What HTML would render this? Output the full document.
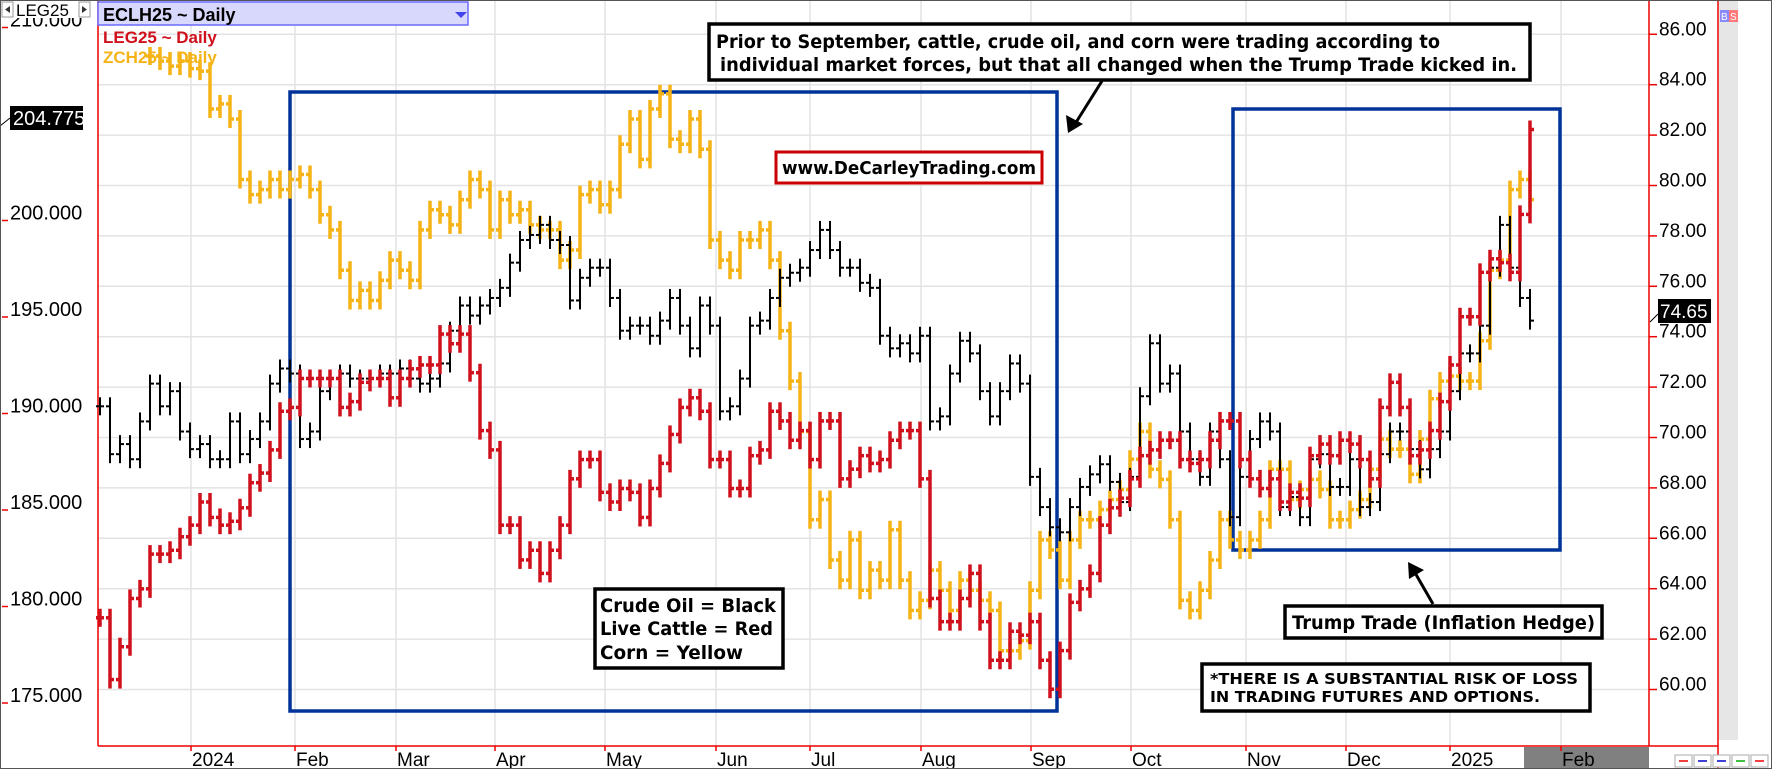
<!DOCTYPE html>
<html><head><meta charset="utf-8">
<style>
html,body{margin:0;padding:0;background:#fff;}
svg{display:block;font-family:"Liberation Sans",Arial,sans-serif;}
.ann{font-family:"DejaVu Sans","Liberation Sans",sans-serif;font-weight:bold;}
</style></head>
<body>
<svg id="chart" width="1772" height="769" viewBox="0 0 1772 769" xmlns="http://www.w3.org/2000/svg">
  <rect x="0" y="0" width="1772" height="769" fill="#fff"/>
  <rect x="1524" y="747" width="125" height="22" fill="#808080"/>
  <g id="grid"></g>
  <g id="axes"></g>
  <!-- blue boxes -->
  <rect x="290" y="92" width="767" height="619" fill="none" stroke="#003399" stroke-width="3.5"/>
  <rect x="1233" y="109" width="327" height="441" fill="none" stroke="#003399" stroke-width="3.5"/>
  <g id="series"></g>

  <!-- annotations -->
  <g>
    <rect x="709" y="24" width="821" height="56" fill="#fff" stroke="#000" stroke-width="3.5"/>
    <text class="ann" x="716" y="48" font-size="19" textLength="724" lengthAdjust="spacingAndGlyphs">Prior to September, cattle, crude oil, and corn were trading according to</text>
    <text class="ann" x="720" y="71" font-size="19" textLength="797" lengthAdjust="spacingAndGlyphs">individual market forces, but that all changed when the Trump Trade kicked in.</text>
  </g>
  <g>
    <line x1="1102" y1="81" x2="1075" y2="124" stroke="#000" stroke-width="3"/>
    <polygon points="1068,133 1066,115 1083,124" fill="#000"/>
  </g>
  <g>
    <rect x="776" y="152" width="266" height="31" fill="#fff" stroke="#cc0000" stroke-width="3"/>
    <text class="ann" x="782" y="174" font-size="18" textLength="254" lengthAdjust="spacingAndGlyphs">www.DeCarleyTrading.com</text>
  </g>
  <g>
    <rect x="595" y="589" width="188" height="79" fill="#fff" stroke="#000" stroke-width="3.5"/>
    <text class="ann" x="600" y="612" font-size="19" textLength="176" lengthAdjust="spacingAndGlyphs">Crude Oil = Black</text>
    <text class="ann" x="600" y="635" font-size="19" textLength="173" lengthAdjust="spacingAndGlyphs">Live Cattle = Red</text>
    <text class="ann" x="600" y="659" font-size="19" textLength="143" lengthAdjust="spacingAndGlyphs">Corn = Yellow</text>
  </g>
  <g>
    <rect x="1285" y="606" width="317" height="32" fill="#fff" stroke="#000" stroke-width="3.5"/>
    <text class="ann" x="1292" y="629" font-size="19" textLength="303" lengthAdjust="spacingAndGlyphs">Trump Trade (Inflation Hedge)</text>
  </g>
  <g>
    <line x1="1433" y1="604" x2="1414" y2="571" stroke="#000" stroke-width="3"/>
    <polygon points="1408,562 1424,570 1409,579" fill="#000"/>
  </g>
  <g>
    <rect x="1202" y="664" width="388" height="47" fill="#fff" stroke="#000" stroke-width="3.5"/>
    <text class="ann" x="1210" y="684" font-size="15" textLength="368" lengthAdjust="spacingAndGlyphs">*THERE IS A SUBSTANTIAL RISK OF LOSS</text>
    <text class="ann" x="1210" y="702" font-size="15" textLength="330" lengthAdjust="spacingAndGlyphs">IN TRADING FUTURES AND OPTIONS.</text>
  </g>

  <!-- last price labels -->
  <g>
    <line x1="0" y1="126" x2="10" y2="118" stroke="#000" stroke-width="1"/>
    <rect x="10" y="106" width="73" height="24" fill="#000"/>
    <text x="13" y="125" font-size="20" fill="#fff">204.775</text>
  </g>
  <g>
    <line x1="1650" y1="322" x2="1658" y2="314" stroke="#000" stroke-width="1"/>
    <rect x="1658" y="299" width="53" height="24" fill="#000"/>
    <text x="1660" y="318" font-size="19" fill="#fff">74.65</text>
  </g>

  <!-- top-left widgets -->
  <g>
    <rect x="0" y="0" width="96" height="18" fill="#fff"/>
    <rect x="2" y="2" width="11" height="15" fill="#fff" stroke="#999"/>
    <polygon points="5,9.5 10,6 10,13" fill="#333"/>
    <text x="16" y="16" font-size="17">LEG25</text>
    <rect x="79" y="2" width="11" height="15" fill="#fff" stroke="#999"/>
    <polygon points="87,9.5 82,6 82,13" fill="#333"/>
  </g>
  <g>
    <rect x="98" y="2" width="370" height="23" fill="#d8d8fc" stroke="#6b6bff" stroke-width="1.5"/>
    <text x="103" y="21" font-size="18" font-weight="bold">ECLH25 ~ Daily</text>
    <polygon points="455,12 467,12 461,18" fill="#4444ee"/>
  </g>
  <text x="103" y="43" font-size="17" font-weight="bold" fill="#d0101c">LEG25 ~ Daily</text>
  <text x="103" y="63" font-size="17" font-weight="bold" fill="#f5b316">ZCH25 ~ Daily</text>

  <!-- right side strip -->
  <rect x="1719" y="0" width="19" height="740" fill="#e6e6e6"/>
  <rect x="1720" y="10" width="9" height="12" fill="#8a8aff"/>
  <text x="1721" y="20" font-size="10" fill="#fff">B</text>
  <rect x="1729" y="10" width="9" height="12" fill="#ff7a7a"/>
  <text x="1730" y="20" font-size="10" fill="#fff">S</text>
  <g id="btns"></g>
  <rect x="0.5" y="0.5" width="1771" height="768" fill="none" stroke="#555" stroke-width="1"/>
</svg>
<script>
// ---- data (every 10px ≈ 2 trading days) ----
const cattle = [179.0,175.8,177.5,180.0,180.5,182.3,182.3,182.5,183.2,183.8,185.0,184.2,183.8,184.0,184.7,186.0,186.5,187.7,189.7,189.9,191.4,191.4,191.4,191.4,189.9,190.2,191.2,191.4,191.4,190.4,191.4,191.9,192.1,192.1,193.7,193.2,193.7,191.7,188.7,187.7,
183.8,183.8,182.0,182.5,181.3,182.5,183.8,186.2,187.2,187.2,185.5,185.0,185.7,185.5,184.2,185.7,187.0,188.5,189.9,190.4,189.7,187.2,187.2,185.7,185.7,187.4,187.7,189.7,189.2,188.2,188.7,187.2,189.2,189.2,186.2,186.7,187.4,187.0,187.2,188.2,
188.7,188.7,186.2,180.0,178.8,178.8,180.0,181.3,178.8,176.8,176.8,178.3,178.1,178.8,176.8,175.3,177.3,179.8,180.5,181.3,183.8,184.7,185.2,186.2,187.4,187.7,188.2,188.2,187.2,187.0,187.2,188.2,189.2,189.2,187.2,186.2,185.7,186.2,185.0,185.5,
185.2,187.4,188.0,187.4,188.2,188.0,187.2,186.2,189.9,191.2,189.9,187.4,187.7,188.7,190.2,192.1,194.6,194.6,196.9,197.6,197.4,196.9,199.9,204.3];
const crude = [71.0,69.1,69.5,68.9,70.4,71.9,71.0,71.6,70.0,69.3,69.5,68.9,68.9,70.4,69.1,69.7,70.4,71.9,72.5,72.3,69.7,70.0,71.6,72.1,72.3,72.1,72.1,72.1,72.3,72.3,72.5,72.1,71.9,72.1,72.7,74.0,75.0,74.6,75.0,75.3,
75.7,76.7,77.6,77.8,78.2,77.6,77.4,75.2,76.1,76.5,76.5,75.3,74.0,74.2,74.2,73.8,74.4,75.3,74.2,73.3,75.0,74.2,70.8,71.0,72.1,74.2,74.4,75.3,76.1,76.3,76.5,77.2,78.0,77.2,76.5,76.5,75.9,75.7,73.8,73.3,
73.5,73.1,73.8,70.4,70.6,72.3,73.6,73.1,71.6,70.6,71.6,72.7,71.9,68.2,67.0,66.2,66.0,67.0,67.8,68.3,68.7,68.0,67.2,68.2,71.4,73.5,71.9,72.3,70.0,68.9,68.2,70.0,68.9,66.6,68.2,69.7,70.4,70.0,
67.0,67.4,66.6,68.9,69.1,67.8,67.8,68.9,67.0,67.2,69.1,70.0,70.0,69.3,68.5,69.3,70.0,71.6,73.1,73.1,74.2,76.5,78.2,76.5,75.3,74.4];
// corn drawn as overlay in right-axis-equivalent units
const corn = [null,null,null,null,null,84.9,84.7,84.5,84.7,84.4,84.3,82.8,83.0,82.4,80.0,79.4,79.6,80.0,79.6,80.0,80.2,79.6,78.6,78.0,76.4,75.2,75.6,75.2,76.0,76.8,76.4,76.0,78.0,78.8,78.6,78.2,79.2,80.0,79.6,78.0,
79.2,78.6,78.8,78.2,78.0,78.0,76.8,77.2,79.4,79.6,79.0,79.6,81.4,82.4,80.8,82.8,83.4,81.6,81.4,82.4,81.2,77.6,76.8,76.4,77.6,77.6,78.0,76.8,74.0,72.0,70.0,66.5,67.3,64.9,64.1,65.7,63.7,64.5,64.1,66.1,
64.1,62.9,63.3,64.5,63.7,62.9,64.1,63.7,63.3,62.9,61.3,61.3,61.7,63.7,65.7,65.3,64.1,65.7,66.5,66.5,66.9,67.3,67.7,68.9,70.0,68.5,68.1,66.5,63.3,62.9,63.7,64.9,66.5,65.7,65.3,65.7,66.5,68.5,
68.5,67.3,67.7,68.1,67.7,66.5,66.5,66.9,67.3,68.5,69.7,69.3,69.3,68.3,69.7,71.3,72.0,72.2,72.0,72.0,73.6,76.4,76.8,79.6,80.0,79.2];
const leftTicks = [210,200,195,190,185,180,175];
const rightTicks = [86,84,82,80,78,76,74,72,70,68,66,64,62,60];
const monthLabels = ["2024","Feb","Mar","Apr","May","Jun","Jul","Aug","Sep","Oct","Nov","Dec","2025","Feb"];
const monthStartBar = [9.1,19.5,29.6,39.5,50.5,61.6,71.0,82.1,93.1,103.1,114.6,124.6,135.0,146.1];

// ---- scales ----
const NS="http://www.w3.org/2000/svg";
const plotL=98, plotR=1649, plotB=746;
function xS(i){return 100+10*i;}
function yL(v){return 212.5+(200-v)*19.3;}
function yR(v){return 28.3+(86-v)*25.2;}
function mk(tag,attrs,parent){const e=document.createElementNS(NS,tag);for(const k in attrs)e.setAttribute(k,attrs[k]);parent.appendChild(e);return e;}

const grid=document.getElementById('grid'), axes=document.getElementById('axes'), series=document.getElementById('series');
rightTicks.forEach(v=>{
  const y=yR(v)+6;
  const g=mk('line',{x1:plotL,x2:plotR,y1:y,y2:y,stroke:'#e3e3e3','stroke-width':1.5},grid);
  
  
  const t=mk('line',{x1:plotR,x2:plotR+8,y1:y,y2:y,stroke:'#e00','stroke-width':1.5},axes);
  
  
  const l=mk('text',{x:1659,y:yR(v)+7,'font-size':19},axes);
  l.textContent=v.toFixed(2);
  
  
});
monthLabels.forEach((m,k)=>{
  const x=xS(monthStartBar[k]);
  const g=mk('line',{x1:x,x2:x,y1:0,y2:plotB,stroke:'#e3e3e3','stroke-width':1.5},grid);
  
  
  const t=mk('line',{x1:x,x2:x,y1:plotB,y2:plotB+5,stroke:'#e00','stroke-width':1.5},axes);
  
  
  const l=mk('text',{x:x+1,y:766,'font-size':19},axes);
  l.textContent=m;
  
  
});
leftTicks.forEach(v=>{
  const y=yL(v);
  const t=mk('line',{x1:2,x2:8,y1:y+8,y2:y+8,stroke:'#e00','stroke-width':1.5},axes);
  
  
  const l=mk('text',{x:10,y:y+7,'font-size':20},axes);
  l.textContent=v.toFixed(3);
  
  
});
[[plotL,0,plotL,plotB],[plotR,0,plotR,plotB],[1718,0,1718,769],[plotL,plotB,1718,plotB]].forEach(a=>{
  const e=mk('line',{x1:a[0],y1:a[1],x2:a[2],y2:a[3],stroke:'#e00','stroke-width':1.5},axes);
  
  
});

function drawBars(vals,yf,color,w,name){
  const g=mk('g',{},series);
  
  
  for(let i=0;i<vals.length;i++){
    const c=vals[i]; if(c==null) continue;
    const o=(i>0&&vals[i-1]!=null)?vals[i-1]:c;
    const x=xS(i), yo=yf(o), yc=yf(c);
    const top=Math.min(yo,yc)-9, bot=Math.max(yo,yc)+9;
    const b=mk('g',{stroke:color,'stroke-width':w},g);
    
    
    mk('line',{x1:x,x2:x,y1:top,y2:bot},b);
    mk('line',{x1:x-4,x2:x,y1:yo,y2:yo},b);
    mk('line',{x1:x,x2:x+4,y1:yc,y2:yc},b);
  }
}
drawBars(corn,yR,'#f5b316',3.5,'corn');
drawBars(crude,yR,'#000',2,'crude');
drawBars(cattle,yL,'#d0101c',3.5,'cattle');

const btnColors=['#e00','#00c','#00c','#0a0','#e00'];
const btns=document.getElementById('btns');
btnColors.forEach((c,k)=>{
  const x=1675+k*19;
  const r=mk('rect',{x:x,y:755,width:17,height:12,fill:'#fff',stroke:'#aaa'},btns);
  
  
  mk('line',{x1:x+4,x2:x+13,y1:761,y2:761,stroke:c,'stroke-width':1.5},btns);
});
</script>
</body></html>
